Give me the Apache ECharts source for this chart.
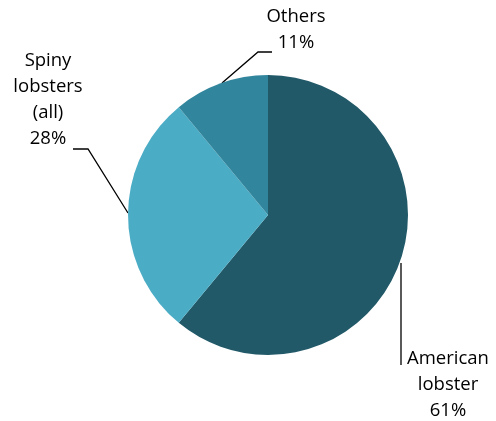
<!DOCTYPE html>
<html>
<head>
<meta charset="utf-8">
<script src="https://cdn.jsdelivr.net/npm/echarts@6/dist/echarts.min.js"></script>
<style>
  html, body { margin: 0; padding: 0; background: #fff; }
  #chart { width: 496px; height: 421px; }
</style>
</head>
<body>
<div id="chart"></div>
<script>
  // 数据
  var names = ['American\nlobster', 'Spiny\nlobsters\n(all)', 'Others'];
  var values = [61, 28, 11];
  var colors = ['#215968', '#4BACC6', '#31859C'];

  // 标签位置和引导线（按切片顺序）
  var labelPos = [[448, 385], [48, 100], [296, 30]];
  var linePts = [
    [[401, 263], [401, 365], [401, 365]],
    [[128, 213], [88, 149], [73, 149]],
    [[222, 83], [258, 52], [272, 52]]
  ];

  var chart = echarts.init(document.getElementById('chart'));

  var data = names.map(function (n, i) {
    return { name: n, value: values[i], itemStyle: { color: colors[i] } };
  });

  var option = {
    animation: false,
    series: [{
      type: 'pie',
      center: [268, 215],
      radius: 140,
      startAngle: 90,
      clockwise: true,
      data: data,
      label: {
        formatter: '{b}\n{d}%',
        color: '#000',
        fontFamily: 'Open Sans',
        fontSize: 18.5,
        lineHeight: 26,
        align: 'center',
        overflow: 'none',
        width: 200
      },
      labelLine: {
        show: true,
        lineStyle: { color: '#000', width: 1.3 }
      },
      labelLayout: function (p) {
        var i = p.dataIndex;
        return {
          x: labelPos[i][0],
          y: labelPos[i][1],
          align: 'center',
          verticalAlign: 'middle',
          labelLinePoints: linePts[i]
        };
      }
    }]
  };

  chart.setOption(option);
</script>
</body>
</html>
